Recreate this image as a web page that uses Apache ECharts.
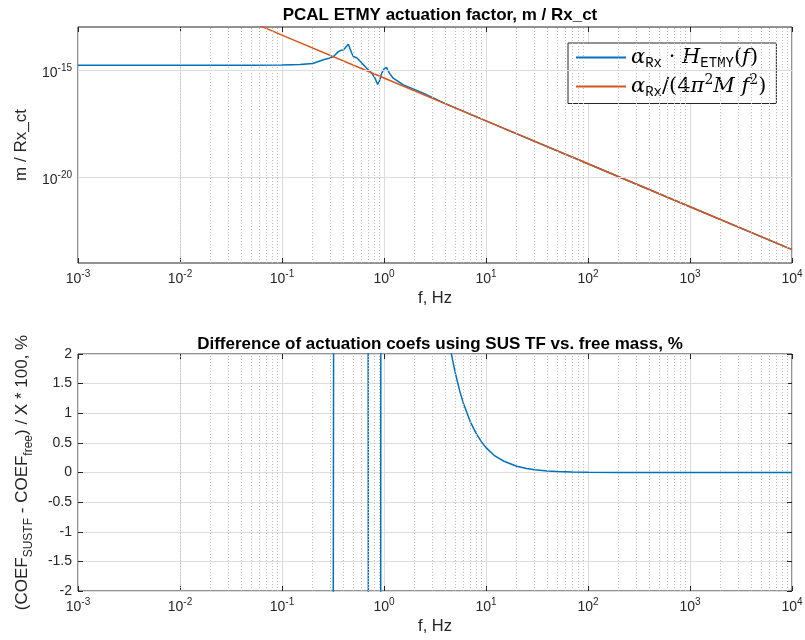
<!DOCTYPE html>
<html><head><meta charset="utf-8">
<script src="https://cdn.jsdelivr.net/npm/echarts@6/dist/echarts.min.js"></script>
<style>html,body{margin:0;padding:0;background:#fff}#c{width:805px;height:640px}</style>
</head><body><div id="c"></div>
<script>
// ---- data ----
const freqSus = [0.001, 0.01, 0.05, 0.1, 0.15, 0.2, 0.254, 0.29, 0.32, 0.357, 0.38, 0.399, 0.415, 0.447, 0.483, 0.5, 0.54, 0.58, 0.677, 0.758, 0.816, 0.867, 0.9, 0.95, 1.0, 1.06, 1.13, 1.23, 1.55, 2.43, 3.54, 5, 7, 10, 100, 1000, 10000];
const actSus = [1.65e-15, 1.65e-15, 1.66e-15, 1.70e-15, 1.80e-15, 2.0e-15, 2.95e-15, 3.5e-15, 4.2e-15, 7.1e-15, 8.3e-15, 8.5e-15, 7.1e-15, 1.58e-14, 6.0e-15, 4.2e-15, 3.7e-15, 2.6e-15, 1.2e-15, 7.1e-16, 4.1e-16, 2.1e-16, 2.9e-16, 7.1e-16, 1.12e-15, 1.29e-15, 7.1e-16, 4.1e-16, 2.0e-16, 8.3e-17, 3.5e-17, 1.70e-17, 8.64e-18, 4.22e-18, 4.2e-20, 4.2e-22, 4.2e-24];
const freqFree = [0.05, 0.1, 1, 10, 100, 1000, 10000];
const actFree = [1.7e-13, 4.2e-14, 4.2e-16, 4.2e-18, 4.2e-20, 4.2e-22, 4.2e-24];
const freqDiff = [0.001, 0.1, 0.2, 0.3, 0.315, 0.325, 0.4, 0.6, 0.695, 0.705, 0.8, 0.87, 0.925, 0.935, 1.0, 1.3, 2, 3, 4, 4.5, 4.7, 5, 5.5, 6, 7, 8, 9, 10, 12, 15, 20, 25, 30, 40, 50, 70, 100, 200, 500, 1000, 10000];
const diffPct = [-100, -99.6, -98, -40, -8, 10, 300, 200, 8, -6, -40, -60, -8, 10, 160, 60, 15, 5, 2.7, 2.07, 1.9, 1.68, 1.39, 1.17, 0.86, 0.66, 0.52, 0.42, 0.29, 0.19, 0.105, 0.067, 0.047, 0.026, 0.017, 0.009, 0.004, 0.001, 0, 0, 0];
// axis ticks
const xDecadeExps = [-3, -2, -1, 0, 1, 2, 3];
const minorMult = [2, 3, 4, 5, 6, 7, 8, 9];
const yTopTickExps = [-20, -15];
const yTopRangeExps = [-24, -13];
const seriesNames = ['sus', 'free'];

const TXT = '#262626';
const GRID = '#dcdcdc';
const MINOR = '#bdbdbd';
const SANS = 'Liberation Sans, Arial, Helvetica, sans-serif';

const pow10Rich = {
  b: { fontFamily: SANS, fontSize: 14, lineHeight: 14, padding: [6, 0, 0, 0], color: TXT },
  e: { fontFamily: SANS, fontSize: 10, lineHeight: 10, verticalAlign: 'top', color: TXT }
};
const pow10Text = e => '{b|10}{e|' + e + '}';
const pow10Label = v => pow10Text(Math.round(Math.log10(v)));

const minorLines = [];
xDecadeExps.forEach(e => minorMult.forEach(m => minorLines.push({ xAxis: m * Math.pow(10, e) })));

const zip = (a, b) => a.map((x, i) => [x, b[i]]);
// top panel magnitude is shown on a log10 scale (decades)
const zipLog = (a, b) => a.map((x, i) => [x, Math.log10(b[i])]);

function xAxesFor(gi) {
  return [{
    gridIndex: gi, type: 'log', logBase: 10, min: 1e-3, max: 1e4,
    axisLine: { show: false, onZero: false },
    axisTick: { show: true, inside: true, length: 5, lineStyle: { color: TXT } },
    axisLabel: { formatter: pow10Label, rich: pow10Rich, margin: 6 },
    splitLine: { show: true, lineStyle: { color: GRID, width: 1 } },
    name: 'f, Hz', nameLocation: 'middle', nameGap: 27,
    nameTextStyle: { fontFamily: SANS, fontSize: 16.5, color: TXT }
  }, {
    gridIndex: gi, type: 'log', logBase: 10, min: 1e-3, max: 1e4, position: 'top',
    axisLine: { show: false, onZero: false },
    axisTick: { show: true, inside: true, length: 5, lineStyle: { color: TXT } },
    axisLabel: { show: false }, splitLine: { show: false }
  }];
}

const legendRich = {
  i: { fontFamily: 'DejaVu Serif, Liberation Serif, serif', fontStyle: 'italic', fontSize: 21, lineHeight: 26, color: '#000' },
  n: { fontFamily: 'DejaVu Serif, Liberation Serif, serif', fontSize: 21, lineHeight: 26, color: '#000' },
  s: { fontFamily: 'Liberation Mono, DejaVu Sans Mono, monospace', fontSize: 14, lineHeight: 16, verticalAlign: 'bottom', color: '#000' },
  p: { fontFamily: 'DejaVu Serif, Liberation Serif, serif', fontSize: 14, lineHeight: 14, verticalAlign: 'top', color: '#000' }
};
const legendText = {
  sus: '{i|α}{s|Rx}{n| · }{i|H}{s|ETMY}{n|(}{i|f}{n|)}',
  free: '{i|α}{s|Rx}{n|/(4}{i|π}{p|2}{i|M f}{p|2}{n|)}'
};

const option = {
  animation: false,
  backgroundColor: '#fff',
  title: [
    { text: 'PCAL ETMY actuation factor, m / Rx_ct', left: 435, top: 2, textAlign: 'center',
      textStyle: { fontFamily: SANS, fontSize: 17, fontWeight: 'bold', color: '#000' } },
    { text: 'Difference of actuation coefs using SUS TF vs. free mass, %', left: 435, top: 331, textAlign: 'center',
      textStyle: { fontFamily: SANS, fontSize: 17, fontWeight: 'bold', color: '#000' } }
  ],
  grid: [
    { left: 78, top: 27, width: 714, height: 236, show: true, borderColor: TXT, borderWidth: 1, backgroundColor: 'transparent', outerBoundsMode: 'none' },
    { left: 78, top: 354, width: 714, height: 237, show: true, borderColor: TXT, borderWidth: 1, backgroundColor: 'transparent', outerBoundsMode: 'none' }
  ],
  legend: {
    data: seriesNames.map(n => ({ name: n, icon: 'rect' })), orient: 'vertical', left: 568, top: 43,
    itemWidth: 50, itemHeight: 2, itemGap: 3,
    padding: [4, 10, 4, 8],
    borderColor: TXT, borderWidth: 1, backgroundColor: '#fff',
    formatter: n => legendText[n],
    textStyle: { rich: legendRich }
  },
  xAxis: [...xAxesFor(0), ...xAxesFor(1)],
  yAxis: [
    { gridIndex: 0, type: 'value', min: yTopRangeExps[0], max: yTopRangeExps[1],
      axisLine: { show: false, onZero: false },
      axisTick: { show: true, inside: true, length: 5, lineStyle: { color: TXT }, customValues: yTopTickExps },
      axisLabel: { formatter: v => pow10Text(v), rich: pow10Rich, margin: 6, customValues: yTopTickExps },
      splitLine: { show: false },
      name: 'm / Rx_ct', nameLocation: 'middle', nameGap: 48, nameRotate: 90,
      nameTextStyle: { fontFamily: SANS, fontSize: 17, color: TXT } },
    { gridIndex: 0, type: 'value', min: yTopRangeExps[0], max: yTopRangeExps[1], position: 'right',
      axisLine: { show: false, onZero: false },
      axisTick: { show: true, inside: true, length: 5, lineStyle: { color: TXT }, customValues: yTopTickExps },
      axisLabel: { show: false }, splitLine: { show: false } },
    { gridIndex: 1, type: 'value', min: -2, max: 2, interval: 0.5,
      axisLine: { show: false, onZero: false },
      axisTick: { show: true, inside: true, length: 5, lineStyle: { color: TXT } },
      axisLabel: { fontFamily: SANS, fontSize: 14, color: TXT, margin: 6 },
      splitLine: { show: true, lineStyle: { color: GRID, width: 1 } },
      name: '{m|(COEF}{s|SUSTF}{m| - COEF}{s|free}{m|) / X * 100, %}',
      nameLocation: 'middle', nameGap: 38, nameRotate: 90,
      nameTextStyle: { rich: {
        m: { fontFamily: SANS, fontSize: 17, lineHeight: 18, padding: [0, 0, 6, 0], color: TXT },
        s: { fontFamily: SANS, fontSize: 12, lineHeight: 12, verticalAlign: 'bottom', color: TXT }
      } } },
    { gridIndex: 1, type: 'value', min: -2, max: 2, interval: 0.5, position: 'right',
      axisLine: { show: false, onZero: false },
      axisTick: { show: true, inside: true, length: 5, lineStyle: { color: TXT } },
      axisLabel: { show: false }, splitLine: { show: false } }
  ],
  series: [
    { type: 'line', name: 'grid0', xAxisIndex: 0, yAxisIndex: 0, data: [], silent: true, z: 1,
      markLine: { silent: true, symbol: 'none', label: { show: false }, animation: false,
        lineStyle: { color: MINOR, type: [1, 2], width: 1 },
        data: [...minorLines, ...yTopTickExps.map(e => ({ yAxis: e, lineStyle: { color: GRID, type: 'solid', width: 1 } }))] } },
    { type: 'line', name: 'grid1', xAxisIndex: 2, yAxisIndex: 2, data: [], silent: true, z: 1,
      markLine: { silent: true, symbol: 'none', label: { show: false }, animation: false,
        lineStyle: { color: MINOR, type: [1, 2], width: 1 }, data: minorLines } },
    { type: 'line', name: 'sus', xAxisIndex: 0, yAxisIndex: 0, data: zipLog(freqSus, actSus),
      symbol: 'none', lineStyle: { color: '#0072BD', width: 1.5 }, itemStyle: { color: '#0072BD' }, z: 3 },
    { type: 'line', name: 'free', xAxisIndex: 0, yAxisIndex: 0, data: zipLog(freqFree, actFree),
      symbol: 'none', lineStyle: { color: '#D95319', width: 1.5 }, itemStyle: { color: '#D95319' }, z: 4 },
    { type: 'line', name: 'diff', xAxisIndex: 2, yAxisIndex: 2, data: zip(freqDiff, diffPct),
      symbol: 'none', lineStyle: { color: '#0072BD', width: 1.5 }, itemStyle: { color: '#0072BD' }, z: 3 }
  ]
};
const chart = echarts.init(document.getElementById('c'), null, { renderer: 'canvas' });
chart.setOption(option);
</script>
</body></html>
